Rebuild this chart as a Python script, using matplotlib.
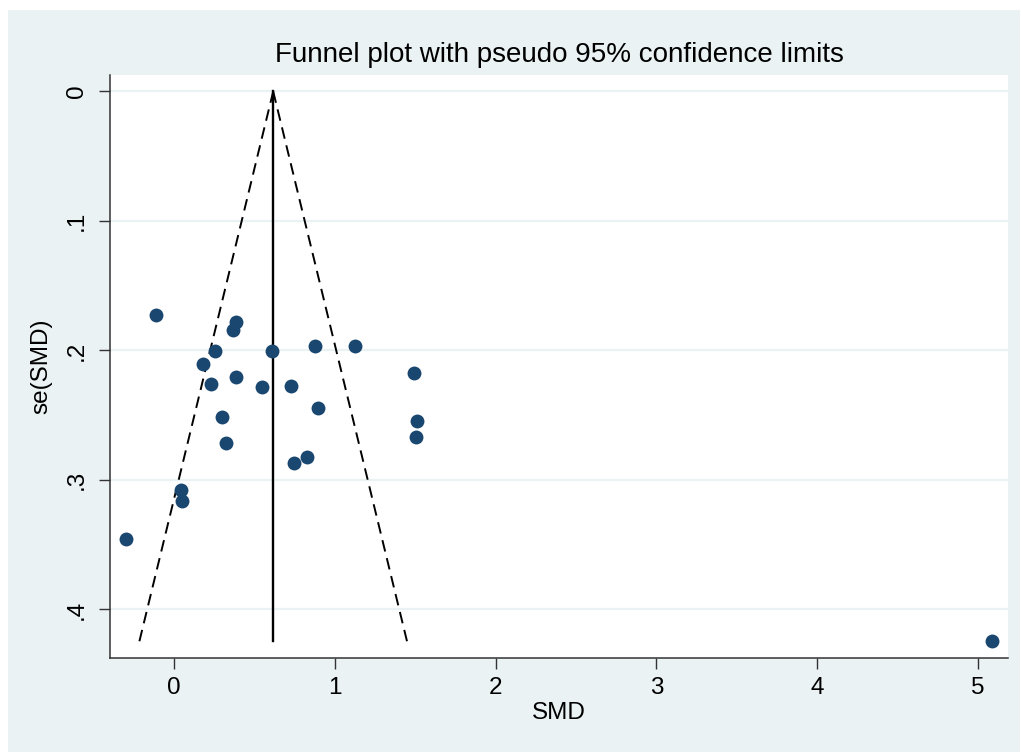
import matplotlib
matplotlib.use("Agg")
import matplotlib.pyplot as plt
from matplotlib.patches import Rectangle
import numpy as np

plt.rcParams['font.family'] = ['Liberation Sans', 'DejaVu Sans']

smd = [-0.112, 0.384, 0.369, 0.253, 0.611, 0.879, 1.128, 0.178, 1.495, 0.386,
       0.232, 0.549, 0.730, 0.893, 0.301, 1.513, 1.503, 0.326, 0.829, 0.746,
       0.0435, 0.052, -0.2985, 5.085]
se = [0.1726, 0.1778, 0.1842, 0.2006, 0.2006, 0.1968, 0.1968, 0.2104, 0.2171, 0.2202,
      0.2259, 0.2279, 0.2272, 0.2442, 0.2511, 0.2542, 0.2666, 0.2717, 0.2822, 0.2871,
      0.3077, 0.3165, 0.3456, 0.4241]
pooled = 0.617
se_max = 0.4246
z95 = 1.96

xticks = [0, 1, 2, 3, 4, 5]
xticklabels = ['0', '1', '2', '3', '4', '5']
yticks = [0, 0.1, 0.2, 0.3, 0.4]
yticklabels = ['0', '.1', '.2', '.3', '.4']

W, H = 1021, 753
fig = plt.figure(figsize=(W / 100, H / 100), dpi=100, facecolor='white')
bg = '#EAF2F3'
fig.patches.append(Rectangle((8 / W, 1 - 752 / H), 1012 / W, 742 / H,
                             transform=fig.transFigure, facecolor=bg,
                             edgecolor='none', zorder=-10))

ax = fig.add_axes([110 / W, 1 - 658 / H, (1008 - 110) / W, (658 - 75) / H])
ax.set_facecolor('white')

ax.set_xlim(-0.398, 5.187)
ax.set_ylim(0.4375, -0.0127)

for yt in yticks:
    ax.axhline(yt, color=bg, lw=1.6, zorder=0)

se_line = np.array([0.0, se_max])
ax.plot([pooled, pooled], [0, se_max], color='black', lw=1.7, zorder=2)
ax.plot(pooled - z95 * se_line, se_line, color='black', lw=1.4,
        linestyle=(0, (6, 3.5)), zorder=2)
ax.plot(pooled + z95 * se_line, se_line, color='black', lw=1.4,
        linestyle=(0, (6, 3.5)), zorder=2)

ax.plot(smd, se, 'o', color='#1a476f', markersize=10, markeredgewidth=0, zorder=3)

for s in ['top', 'right']:
    ax.spines[s].set_visible(False)
for s in ['left', 'bottom']:
    ax.spines[s].set_color('#333333')
    ax.spines[s].set_linewidth(1.1)

ax.set_xticks(xticks)
ax.set_xticklabels(xticklabels)
ax.set_yticks(yticks)
ax.set_yticklabels(yticklabels, rotation=90, va='center')
ax.tick_params(axis='both', direction='out', length=8, width=1, color='#333333',
               labelsize=17.5, labelcolor='black')
ax.tick_params(axis='x', pad=6)
ax.tick_params(axis='y', pad=8)

ax.set_xlabel('SMD', fontsize=17.5, labelpad=2)
ax.set_ylabel('se(SMD)', fontsize=17.5, labelpad=10)
ax.set_title('Funnel plot with pseudo 95% confidence limits', fontsize=20, pad=9)

fig.savefig('out.png', dpi=100, facecolor=fig.get_facecolor())
